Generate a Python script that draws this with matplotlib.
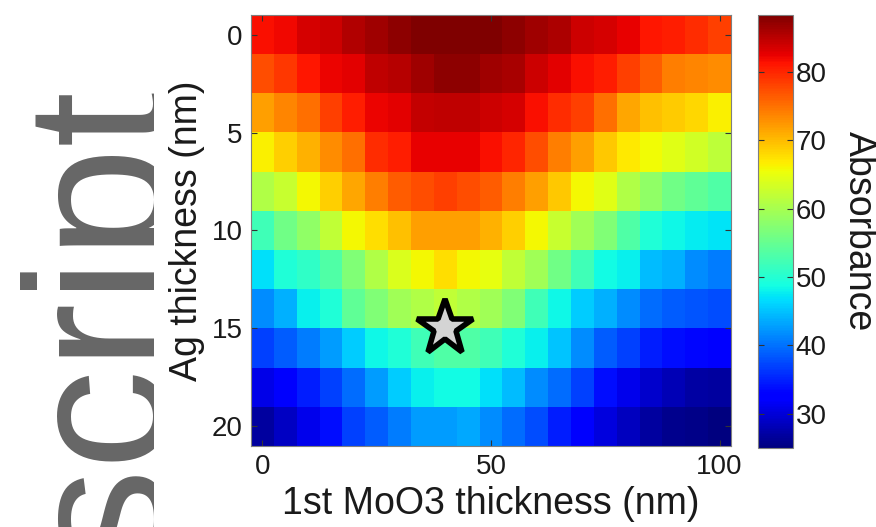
import numpy as np
import matplotlib
matplotlib.use("Agg")
import matplotlib.pyplot as plt

plt.rcParams['font.family'] = ['Liberation Sans', 'DejaVu Sans']

# thickness grid (nm)
moo3_nm = [0, 5, 10, 15, 20, 25, 30, 35, 40, 45, 50, 55, 60, 65, 70, 75, 80, 85, 90, 95, 100]
ag_nm = [0, 2, 4, 6, 8, 10, 12, 14, 16, 18, 20]

# absorbance, one row per Ag thickness
absorbance = [
    [81.6, 82.0, 83.4, 83.9, 85.5, 86.5, 87.4, 88.2, 88.2, 88.2, 88.2, 87.4, 86.5, 85.6, 83.9, 83.4, 82.6, 81.0, 80.5, 79.4, 78.3],
    [77.3, 78.9, 81.0, 82.2, 82.8, 84.8, 85.3, 86.5, 87.4, 87.4, 86.5, 86.0, 83.9, 82.8, 81.6, 80.5, 78.3, 76.2, 74.0, 73.5, 73.0],
    [71.8, 73.5, 75.1, 78.3, 80.5, 82.2, 82.8, 84.4, 84.8, 84.8, 83.9, 83.4, 81.6, 79.4, 78.3, 75.1, 71.3, 69.7, 68.9, 68.1, 66.5],
    [66.5, 68.6, 70.7, 73.0, 75.1, 79.4, 80.5, 82.6, 82.6, 82.6, 81.6, 80.0, 77.3, 74.0, 71.8, 69.1, 67.0, 65.6, 64.4, 63.2, 61.7],
    [60.7, 62.5, 66.0, 68.6, 71.3, 74.0, 76.2, 77.3, 78.3, 77.3, 76.2, 74.0, 71.8, 69.1, 66.0, 64.4, 60.7, 58.2, 55.8, 54.6, 53.3],
    [52.1, 55.8, 58.2, 61.9, 66.0, 67.6, 69.7, 71.8, 71.8, 71.8, 70.7, 68.6, 66.0, 62.5, 59.5, 57.0, 53.3, 49.6, 48.4, 47.7, 47.2],
    [46.8, 49.6, 50.9, 53.3, 57.0, 60.7, 64.0, 66.0, 67.6, 66.0, 65.0, 61.9, 59.5, 55.8, 52.1, 48.7, 47.8, 44.7, 43.8, 41.8, 40.8],
    [41.8, 43.8, 47.8, 49.6, 54.6, 57.0, 59.5, 60.7, 61.9, 60.7, 59.5, 57.0, 52.1, 48.4, 45.7, 43.8, 41.8, 39.8, 38.8, 38.3, 37.8],
    [36.9, 38.8, 40.8, 42.8, 45.7, 48.4, 49.6, 52.1, 53.3, 53.3, 52.1, 49.6, 47.8, 45.2, 41.8, 38.8, 36.9, 34.8, 33.9, 33.4, 32.5],
    [30.7, 32.0, 34.8, 36.9, 39.8, 42.8, 45.7, 47.8, 48.7, 48.7, 46.8, 44.7, 41.8, 39.8, 36.9, 33.9, 31.1, 29.4, 28.1, 27.2, 26.8],
    [26.8, 28.9, 31.1, 33.9, 36.9, 38.8, 40.8, 42.8, 42.8, 43.3, 41.8, 39.8, 37.8, 34.8, 32.0, 30.2, 28.5, 26.8, 25.9, 25.5, 25.0],
]
c_min, c_max = 25.0, 88.3

# optimum marked with a star
best_moo3 = 40
best_ag = 15

W, H = 876, 527
fig = plt.figure(figsize=(W / 100, H / 100), dpi=100)

txt = '#1a1a1a'
frame = '#7f7f7f'
fs = 20   # tick labels
lfs = 27  # axis labels

# clipped gray watermark on the left
wm = fig.add_axes([0, 0, 154 / W, 1])
wm.axis('off')
wm.text(160 / W, 1 - 85 / H, 'script', transform=fig.transFigure, rotation=90,
        rotation_mode='anchor', ha='right', va='baseline', fontsize=144,
        color='#666666', clip_on=True)

ax = fig.add_axes([251 / W, 1 - 446 / H, 480 / W, 431 / H])
dx = (moo3_nm[1] - moo3_nm[0]) / 2
dy = (ag_nm[1] - ag_nm[0]) / 2
im = ax.imshow(np.array(absorbance), cmap='jet', vmin=c_min, vmax=c_max,
               interpolation='nearest', aspect='auto',
               extent=[moo3_nm[0] - dx, moo3_nm[-1] + dx, ag_nm[-1] + dy, ag_nm[0] - dy])
ax.plot(best_moo3, best_ag, marker='*', ms=42, mfc='#d4d4d4', mec='k', mew=4)

ax.set_xticks([0, 50, 100])
ax.set_yticks([0, 5, 10, 15, 20])
ax.tick_params(direction='in', length=4, width=0.8, color='#333333', top=True, right=True,
               labelsize=fs, labelcolor=txt, pad=6)
ax.set_xlabel('1st MoO3 thickness (nm)', fontsize=lfs, color=txt, labelpad=4)
ax.set_ylabel('Ag thickness (nm)', fontsize=lfs, color=txt, labelpad=5)
for s in ax.spines.values():
    s.set_color(frame)
    s.set_linewidth(0.8)

cax = fig.add_axes([758 / W, 1 - 448 / H, 35 / W, 433 / H])
cb = fig.colorbar(im, cax=cax)
cb.set_ticks([30, 40, 50, 60, 70, 80])
cax.tick_params(direction='in', length=4, width=0.8, color='#333333', left=True, right=True,
                labelsize=fs, labelcolor=txt, pad=2)
cb.outline.set_edgecolor(frame)
cb.outline.set_linewidth(0.8)
cb.set_label('Absorbance', fontsize=lfs, color=txt, rotation=-90, labelpad=36)

fig.savefig('out.png', dpi=100)
